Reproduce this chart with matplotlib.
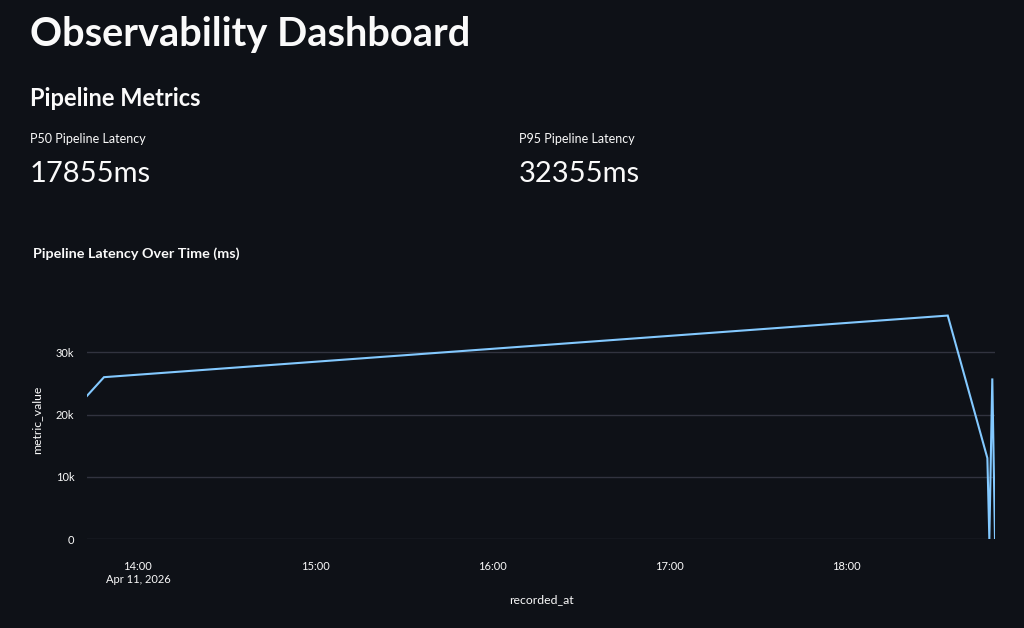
import matplotlib
matplotlib.use("Agg")
import matplotlib.pyplot as plt
import matplotlib.dates as mdates
import pandas as pd

# ---- data ----
recorded_at = pd.to_datetime([
    "2026-04-11 13:42:45",
    "2026-04-11 13:48:30",
    "2026-04-11 18:34:15",
    "2026-04-11 18:47:40",
    "2026-04-11 18:48:20",
    "2026-04-11 18:49:20",
    "2026-04-11 18:50:15",
])
metric_value = [23000, 26000, 35900, 13000, 0, 25800, 0]

x_tick_times = pd.to_datetime([
    "2026-04-11 14:00", "2026-04-11 15:00", "2026-04-11 16:00",
    "2026-04-11 17:00", "2026-04-11 18:00",
])
x_tick_labels = ["14:00\nApr 11, 2026", "15:00", "16:00", "17:00", "18:00"]
y_ticks = [0, 10000, 20000, 30000]
y_tick_labels = ["0", "10k", "20k", "30k"]

metric_labels = ["P50 Pipeline Latency", "P95 Pipeline Latency"]
metric_values = ["17855ms", "32355ms"]

# ---- style ----
BG = "#0e1117"
FG = "#fafafa"
LINE = "#83c9ff"
GRID = "#31333f"
FONT = ["Lato", "DejaVu Sans"]
plt.rcParams["font.family"] = FONT

W, H = 1024, 628
fig = plt.figure(figsize=(W / 100, H / 100), dpi=100, facecolor=BG)

def px(x, y):
    return x / W, 1 - y / H

fig.text(*px(30, 46), "Observability Dashboard", color=FG, fontsize=28.6,
         fontweight="bold", va="baseline", ha="left")
fig.text(*px(30, 106), "Pipeline Metrics", color=FG, fontsize=17,
         fontweight="bold", va="baseline", ha="left")
for xpos, lab, val in zip([30, 519], metric_labels, metric_values):
    fig.text(*px(xpos, 143), lab, color=FG, fontsize=9, va="baseline", ha="left")
    fig.text(*px(xpos, 182), val, color=FG, fontsize=21, fontweight="normal",
             va="baseline", ha="left")

fig.text(*px(33, 258), "Pipeline Latency Over Time (ms)", color=FG, fontsize=10.4,
         fontweight="bold", va="baseline", ha="left")

# axes
left, right, top, bottom = 87, 995, 300, 539
ax = fig.add_axes([left / W, 1 - bottom / H, (right - left) / W, (bottom - top) / H])
ax.set_facecolor(BG)
ax.plot(recorded_at, metric_value, color=LINE, linewidth=1.5, solid_joinstyle="miter")

ax.set_xlim(recorded_at.min(), recorded_at.max())
ax.set_ylim(0, 38400)
ax.set_yticks(y_ticks)
ax.set_yticklabels(y_tick_labels)
ax.set_xticks(mdates.date2num(x_tick_times))
ax.set_xticklabels(x_tick_labels, ha="center", va="top", linespacing=1.25)
ax.grid(axis="y", color=GRID, linewidth=1)
ax.set_axisbelow(True)
for s in ax.spines.values():
    s.set_visible(False)
ax.tick_params(axis="both", length=0, colors=FG, labelsize=8)
ax.tick_params(axis="y", pad=9)
ax.tick_params(axis="x", pad=16)
ax.set_ylabel("metric_value", color=FG, fontsize=8.8, labelpad=10)
ax.set_xlabel("recorded_at", color=FG, fontsize=8.8, labelpad=6)

fig.savefig("out.png", dpi=100, facecolor=BG)
